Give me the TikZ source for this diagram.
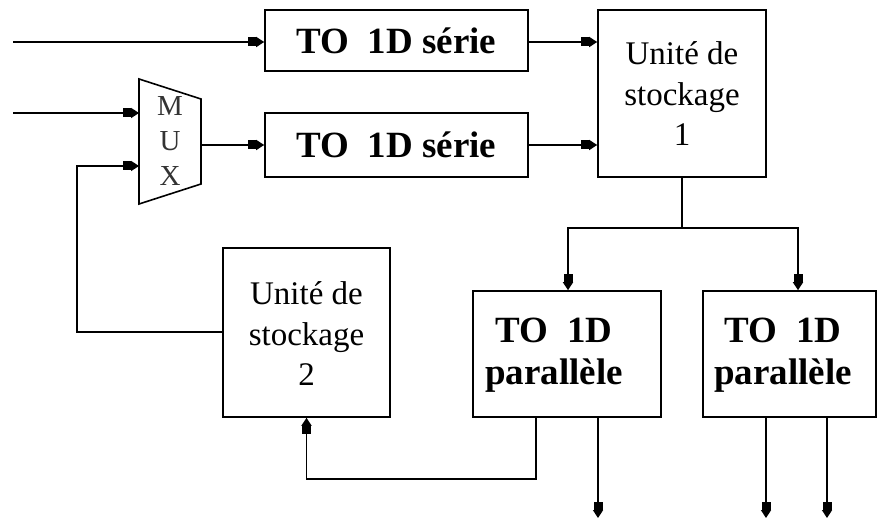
\documentclass[tikz,border=0pt]{standalone}
\usepackage{fontspec}
\setmainfont{Liberation Serif}
\usetikzlibrary{arrows.meta,calc}
\begin{document}
\begin{tikzpicture}[x=1pt,y=-1pt,
  line width=1.6pt,
  arr/.style={-{Square[length=8pt,width=9pt,sep=0pt]Triangle[length=8pt,width=10pt]}},
  blk/.style={draw,rectangle,inner sep=0pt,anchor=center},
  boldtxt/.style={font=\fontsize{37}{42}\selectfont\bfseries,align=center,inner sep=0pt},
  regtxt/.style={font=\fontsize{33}{40.5}\selectfont,align=center,inner sep=0pt},
  muxtxt/.style={font=\fontsize{29}{35}\selectfont,align=center,inner sep=0pt,text=black!80}]
\useasboundingbox (0,0) rectangle (878,518);
% blocks
\node[blk,minimum width=263pt,minimum height=61pt,boldtxt] (to1) at (396.5,40.5) {TO\ \ 1D série};
\node[blk,minimum width=263pt,minimum height=64pt,boldtxt] (to2) at (396.5,145) {TO\ \ 1D série};
\node[blk,minimum width=168pt,minimum height=167pt] (s1) at (682,93.5) {};
\node[regtxt] (s1t) at (682,94) {Unité de\\stockage\\1};
\node[blk,minimum width=167pt,minimum height=169pt] (s2) at (306.5,332.5) {};
\node[regtxt] (s2t) at (306.5,334) {Unité de\\stockage\\2};
\node[blk,minimum width=188pt,minimum height=126pt] (p1) at (567,354) {};
\node[boldtxt] (p1t) at (554,355) {TO\ \ 1D\\parallèle};
\node[blk,minimum width=173pt,minimum height=126pt] (p2) at (789.5,354) {};
\node[boldtxt] (p2t) at (783,355) {TO\ \ 1D\\parallèle};
% MUX
\coordinate (mtl) at (139,79);
\coordinate (mtr) at (201,99);
\coordinate (mbr) at (201,184);
\coordinate (mbl) at (139,204);
\draw (mtl) -- (mtr) -- (mbr) -- (mbl) -- cycle;
\node[muxtxt] (muxt) at (170,141) {M\\U\\X};
\coordinate (min1) at (139,113);
\coordinate (min2) at (139,166);
\coordinate (mout) at (201,145);
% inputs
\coordinate (in1) at (13,42);
\coordinate (in2) at (13,113);
\draw[arr] (in1) -- (in1 -| to1.west);
\draw[arr] (in2) -- (min1);
\draw[arr] (mout) -- (mout -| to2.west);
\draw[arr] (to1.east |- 0,42) -- (s1.west |- 0,42);
\draw[arr] (to2.east) -- (to2.east -| s1.west);
% feedback from storage 2 to mux
\coordinate (fb) at (77,332);
\draw[arr] (s2.west |- fb) -- (fb) -- (fb |- min2) -- (min2);
% storage 1 to parallel
\coordinate (split) at (682,228);
\coordinate (bl) at (568,228);
\coordinate (br) at (798,228);
\draw (s1.south) -- (split);
\draw[arr] (split) -- (bl) -- (bl |- p1.north);
\draw[arr] (split) -- (br) -- (br |- p2.north);
% parallel 1 back to storage 2
\coordinate (r1) at (536,479);
\draw[arr] (r1 |- p1.south) -- (r1) -- (r1 -| s2.south) -- (s2.south);
% outputs
\coordinate (o1) at (598,518);
\coordinate (o2) at (766,518);
\coordinate (o3) at (827,518);
\draw[arr] (o1 |- p1.south) -- (o1);
\draw[arr] (o2 |- p2.south) -- (o2);
\draw[arr] (o3 |- p2.south) -- (o3);
\end{tikzpicture}
\end{document}
